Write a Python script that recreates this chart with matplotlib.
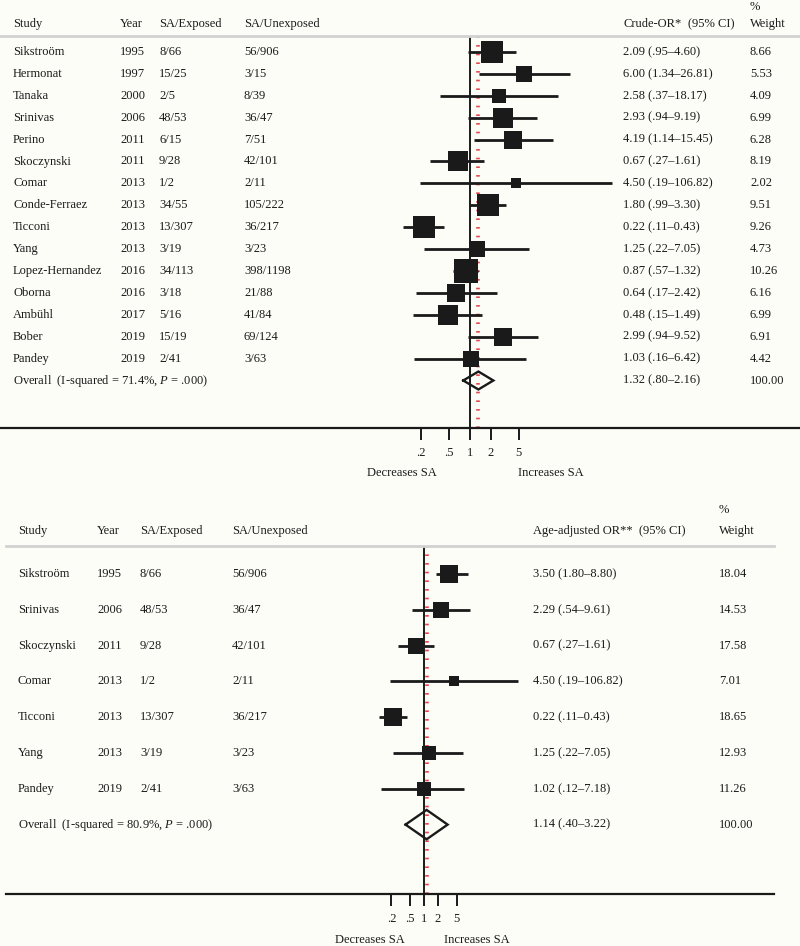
import numpy as np
import matplotlib.pyplot as plt
from matplotlib.transforms import blended_transform_factory
from matplotlib.ticker import NullLocator

plt.rcParams['font.family'] = ['Liberation Serif', 'DejaVu Serif']
plt.rcParams['font.size'] = 9
plt.rcParams['mathtext.fontset'] = 'custom'
plt.rcParams['mathtext.rm'] = 'Liberation Serif'
plt.rcParams['mathtext.it'] = 'Liberation Serif:italic'

BG = '#fdfdf8'
INK = '#1a1a1a'
RED = '#e4444a'
W, H = 800, 946

# ---- top panel: crude OR ----
top_study = ["Sikstroöm", "Hermonat", "Tanaka", "Srinivas", "Perino", "Skoczynski",
             "Comar", "Conde-Ferraez", "Ticconi", "Yang", "Lopez-Hernandez",
             "Oborna", "Ambühl", "Bober", "Pandey"]
top_year = [1995, 1997, 2000, 2006, 2011, 2011, 2013, 2013, 2013, 2013, 2016,
            2016, 2017, 2019, 2019]
top_exposed = ["8/66", "15/25", "2/5", "48/53", "6/15", "9/28", "1/2", "34/55",
               "13/307", "3/19", "34/113", "3/18", "5/16", "15/19", "2/41"]
top_unexposed = ["56/906", "3/15", "8/39", "36/47", "7/51", "42/101", "2/11",
                 "105/222", "36/217", "3/23", "398/1198", "21/88", "41/84",
                 "69/124", "3/63"]
top_or = [2.09, 6.00, 2.58, 2.93, 4.19, 0.67, 4.50, 1.80, 0.22, 1.25, 0.87,
          0.64, 0.48, 2.99, 1.03]
top_lo = [0.95, 1.34, 0.37, 0.94, 1.14, 0.27, 0.19, 0.99, 0.11, 0.22, 0.57,
          0.17, 0.15, 0.94, 0.16]
top_hi = [4.60, 26.81, 18.17, 9.19, 15.45, 1.61, 106.82, 3.30, 0.43, 7.05,
          1.32, 2.42, 1.49, 9.52, 6.42]
top_weight = [8.66, 5.53, 4.09, 6.99, 6.28, 8.19, 2.02, 9.51, 9.26, 4.73,
              10.26, 6.16, 6.99, 6.91, 4.42]
top_overall = (1.32, 0.80, 2.16)
top_i2 = 71.4

# ---- bottom panel: age-adjusted OR ----
bot_study = ["Sikstroöm", "Srinivas", "Skoczynski", "Comar", "Ticconi", "Yang",
             "Pandey"]
bot_year = [1995, 2006, 2011, 2013, 2013, 2013, 2019]
bot_exposed = ["8/66", "48/53", "9/28", "1/2", "13/307", "3/19", "2/41"]
bot_unexposed = ["56/906", "36/47", "42/101", "2/11", "36/217", "3/23", "3/63"]
bot_or = [3.50, 2.29, 0.67, 4.50, 0.22, 1.25, 1.02]
bot_lo = [1.80, 0.54, 0.27, 0.19, 0.11, 0.22, 0.12]
bot_hi = [8.80, 9.61, 1.61, 106.82, 0.43, 7.05, 7.18]
bot_weight = [18.04, 14.53, 17.58, 7.01, 18.65, 12.93, 11.26]
bot_overall = (1.14, 0.40, 3.22)
bot_i2 = 80.9

ticks = [0.2, 0.5, 1, 2, 5]
tick_labels = [".2", ".5", "1", "2", "5"]


def fmt_ci(est, lo, hi):
    lo_s = f"{lo:.2f}"
    if lo_s.startswith("0."):
        lo_s = lo_s[1:]
    return f"{est:.2f} ({lo_s}\u2013{hi:.2f})"


fig = plt.figure(figsize=(8, 9.46), dpi=100, facecolor=BG)


def draw_panel(study, year, exposed, unexposed, est, lo, hi, weight, overall, i2,
               lay):
    top_px, bot_px = lay['top'], lay['bottom']
    r0, dr = lay['row0'], lay['row']
    one, ppl = lay['one'], lay['px_per_ln']

    ax = fig.add_axes([0, 1 - bot_px / H, 1, (bot_px - top_px) / H])
    ax.patch.set_visible(False)
    ax.set_xscale('log')
    ax.set_xlim(np.exp(-one / ppl), np.exp((W - one) / ppl))
    ax.set_ylim((bot_px - r0) / dr, (top_px - r0) / dr)

    def ry(px):
        return (px - r0) / dr

    def xv(px):
        return np.exp((px - one) / ppl)

    tx = blended_transform_factory(ax.transAxes, ax.transData)
    n = len(study)
    rows = np.arange(n)

    # reference lines (behind the marks)
    ax.axvline(oe := overall[0], color=RED, lw=2.6, dashes=(0.45, 1.95), zorder=1)
    ax.axvline(1, color=INK, lw=1.4, zorder=1.5)

    # CIs and weighted squares
    ax.hlines(rows, lo, hi, color=INK, lw=2, zorder=2)
    for r, e, w in zip(rows, est, weight):
        ax.plot(e, r, marker='s', ms=lay['sq'] * np.sqrt(w), color=INK, mew=0,
                zorder=3)

    # overall diamond
    _, ol, oh = overall
    h = 0.41
    ax.plot([ol, oe, oh, oe, ol], [n, n - h, n, n + h, n], color=INK, lw=1.7,
            solid_joinstyle='miter', zorder=3)

    # axis
    for s in ['left', 'right', 'top']:
        ax.spines[s].set_visible(False)
    ax.spines['bottom'].set_linewidth(1.6)
    ax.spines['bottom'].set_color(INK)
    ax.spines['bottom'].set_bounds(xv(lay['line'][0]), xv(lay['line'][1]))
    ax.set_yticks([])
    ax.set_xticks(ticks)
    ax.set_xticklabels(tick_labels)
    ax.xaxis.set_minor_locator(NullLocator())
    ax.tick_params(axis='x', length=8.5, width=1.4, pad=5, color=INK,
                   labelcolor=INK, labelsize=9)

    # header line
    ax.plot([lay['line'][0] / W, lay['line'][1] / W], [ry(top_px), ry(top_px)],
            transform=tx, color='#d2d2d2', lw=2, clip_on=False)

    # headers
    c = lay['cols']
    hy = ry(lay['head'])
    ax.text(c['study'] / W, hy, "Study", transform=tx, va='center', color=INK)
    ax.text(c['year'] / W, hy, "Year", transform=tx, va='center', color=INK)
    ax.text(c['exp'] / W, hy, "SA/Exposed", transform=tx, va='center', color=INK)
    ax.text(c['unexp'] / W, hy, "SA/Unexposed", transform=tx, va='center',
            color=INK)
    ax.text(c['or'] / W, hy, lay['or_head'], transform=tx, va='center', color=INK)
    ax.text(c['ci'] / W, hy, "(95% CI)", transform=tx, va='center', color=INK)
    ax.text(c['w'] / W, hy, "Weight", transform=tx, va='center', color=INK)
    ax.text(c['w'] / W, ry(lay['pct']), "%", transform=tx, va='center', color=INK)

    # rows
    for r in rows:
        ax.text(c['study'] / W, r, study[r], transform=tx, va='center', color=INK)
        ax.text(c['year'] / W, r, str(year[r]), transform=tx, va='center',
                color=INK)
        ax.text(c['exp'] / W, r, exposed[r], transform=tx, va='center', color=INK)
        ax.text(c['unexp'] / W, r, unexposed[r], transform=tx, va='center',
                color=INK)
        ax.text(c['or'] / W, r, fmt_ci(est[r], lo[r], hi[r]), transform=tx,
                va='center', color=INK)
        ax.text(c['w'] / W, r, f"{weight[r]:.2f}", transform=tx, va='center',
                color=INK)
    ax.text(c['study'] / W, n,
            f"Overall  (I-squared = {i2:.1f}%, $P$ = .000)",
            transform=tx, va='center', color=INK)
    ax.text(c['or'] / W, n, fmt_ci(*overall), transform=tx, va='center',
            color=INK)
    ax.text(c['w'] / W, n, "100.00", transform=tx, va='center', color=INK)

    # direction labels
    dy = ry(lay['dir_y'])
    ax.text(lay['dec'] / W, dy, "Decreases SA", transform=tx, ha='right',
            va='center', color=INK)
    ax.text(lay['inc'] / W, dy, "Increases SA", transform=tx, ha='left',
            va='center', color=INK)
    return ax


draw_panel(top_study, top_year, top_exposed, top_unexposed, top_or, top_lo,
           top_hi, top_weight, top_overall, top_i2,
           dict(top=36, bottom=428, row0=52, row=21.9, one=470, px_per_ln=30.3,
                sq=5.2, line=(0, 800), head=24, pct=7, dir_y=473,
                dec=437, inc=518, or_head="Crude-OR*",
                cols={'study': 13, 'year': 120, 'exp': 159, 'unexp': 244,
                      'or': 623, 'ci': 688, 'w': 750}))

draw_panel(bot_study, bot_year, bot_exposed, bot_unexposed, bot_or, bot_lo,
           bot_hi, bot_weight, bot_overall, bot_i2,
           dict(top=546, bottom=894, row0=574, row=35.8, one=424, px_per_ln=20.2,
                sq=2.9, line=(6, 774), head=531, pct=510, dir_y=940,
                dec=405, inc=444, or_head="Age-adjusted OR**",
                cols={'study': 18, 'year': 97, 'exp': 140, 'unexp': 232,
                      'or': 533, 'ci': 639, 'w': 719}))

fig.savefig("out.png", dpi=100, facecolor=BG)
